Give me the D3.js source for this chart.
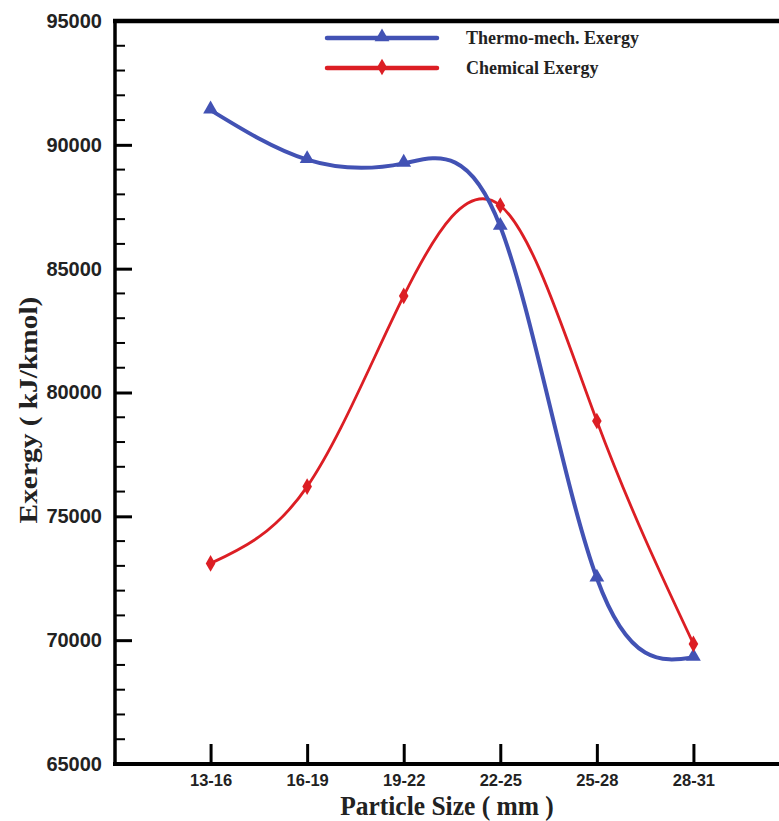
<!DOCTYPE html>
<html lang="en">
<head>
  <meta charset="UTF-8">
  <title>Exergy vs Particle Size</title>
  <script src="https://d3js.org/d3.v7.min.js"></script>
  <style>
    body { margin: 0; background: #fff; }
    svg { display: block; }
  </style>
</head>
<body>
  <div id="chart"></div>

  <script>
    // data
    const categories = ["13-16", "16-19", "19-22", "22-25", "25-28", "28-31"];
    const thermoMech = [91400, 89400, 89250, 86700, 72500, 69300];
    const chemical = [73100, 76200, 83900, 87550, 78850, 69850];
    const yTicks = [65000, 70000, 75000, 80000, 85000, 90000, 95000];

    const width = 779;
    const height = 821;
    const plotLeft = 115, plotTop = 21, plotBottom = 764;

    const blue = "#4252b4";
    const red = "#dc1e24";

    const svg = d3.select("#chart")
      .append("svg")
      .attr("width", width)
      .attr("height", height);

    // x: categories sit at 1..6 on a 0..7 span
    const x = d3.scaleLinear().domain([0, 7]).range([114, 790]);
    const y = d3.scaleLinear().domain([65000, 95000]).range([plotBottom, plotTop]);

    // y axis, major ticks
    const yAxis = svg.append("g")
      .attr("transform", `translate(${plotLeft},0)`)
      .call(d3.axisLeft(y).tickValues(yTicks).tickSizeInner(-17).tickSizeOuter(0).tickPadding(13).tickFormat(d3.format("d")));
    yAxis.select(".domain").remove();
    yAxis.selectAll(".tick line").attr("stroke", "#000").attr("stroke-width", 3);
    yAxis.selectAll(".tick text")
      .attr("font-family", "Liberation Sans, Arial, sans-serif")
      .attr("font-weight", "bold")
      .attr("font-size", 20)
      .attr("fill", "#222");

    // minor ticks every 1000
    const minor = d3.range(66000, 95000, 1000).filter(v => v % 5000 !== 0);
    svg.append("g").selectAll("line")
      .data(minor)
      .enter()
      .append("line")
      .attr("x1", plotLeft)
      .attr("x2", plotLeft + 10)
      .attr("y1", d => y(d))
      .attr("y2", d => y(d))
      .attr("stroke", "#000")
      .attr("stroke-width", 2);

    // x axis
    const xAxis = svg.append("g")
      .attr("transform", `translate(0,${plotBottom})`)
      .call(d3.axisBottom(x).tickValues(d3.range(1, 7)).tickSizeInner(-20).tickSizeOuter(0).tickPadding(10).tickFormat(i => categories[i - 1]));
    xAxis.select(".domain").remove();
    xAxis.selectAll(".tick line").attr("stroke", "#000").attr("stroke-width", 3);
    xAxis.selectAll(".tick text")
      .attr("font-family", "Liberation Sans, Arial, sans-serif")
      .attr("font-weight", "bold")
      .attr("font-size", 16.5)
      .attr("fill", "#222");

    // frame lines: left, top, bottom
    svg.append("line").attr("x1", plotLeft).attr("x2", plotLeft).attr("y1", plotTop - 2).attr("y2", plotBottom + 2)
      .attr("stroke", "#000").attr("stroke-width", 3.5);
    svg.append("line").attr("x1", plotLeft - 2).attr("x2", width).attr("y1", plotTop).attr("y2", plotTop)
      .attr("stroke", "#000").attr("stroke-width", 4.5);
    svg.append("line").attr("x1", plotLeft - 2).attr("x2", width).attr("y1", plotBottom).attr("y2", plotBottom)
      .attr("stroke", "#000").attr("stroke-width", 4);

    // curves
    const line = d3.line()
      .x((d, i) => x(i + 1))
      .y(d => y(d))
      .curve(d3.curveNatural);

    svg.append("path")
      .datum(chemical)
      .attr("d", line)
      .attr("fill", "none")
      .attr("stroke", red)
      .attr("stroke-width", 2.8);

    svg.append("path")
      .datum(thermoMech)
      .attr("d", line)
      .attr("fill", "none")
      .attr("stroke", blue)
      .attr("stroke-width", 4);

    const tri = d3.symbol().type(d3.symbolTriangle).size(95);
    const dia = d3.symbol().type(d3.symbolDiamond).size(80);

    svg.append("g").selectAll("path")
      .data(thermoMech)
      .enter()
      .append("path")
      .attr("d", tri)
      .attr("transform", (d, i) => `translate(${x(i + 1)},${y(d) - 1})`)
      .attr("fill", blue);

    svg.append("g").selectAll("path")
      .data(chemical)
      .enter()
      .append("path")
      .attr("d", dia)
      .attr("transform", (d, i) => `translate(${x(i + 1)},${y(d)})`)
      .attr("fill", red);

    // legend
    const legend = svg.append("g");
    const items = [
      { label: "Thermo-mech. Exergy", color: blue, sym: tri, w: 4.5, y: 38 },
      { label: "Chemical Exergy", color: red, sym: dia, w: 4.5, y: 68 }
    ];
    items.forEach(it => {
      legend.append("line")
        .attr("x1", 327).attr("x2", 437)
        .attr("y1", it.y).attr("y2", it.y)
        .attr("stroke", it.color)
        .attr("stroke-width", it.w)
        .attr("stroke-linecap", "round");
      legend.append("path")
        .attr("d", it.sym)
        .attr("transform", `translate(382,${it.y - 1})`)
        .attr("fill", it.color);
      legend.append("text")
        .attr("x", 466)
        .attr("y", it.y + 6)
        .attr("font-family", "Liberation Serif, Times New Roman, serif")
        .attr("font-weight", "bold")
        .attr("font-size", 18)
        .attr("fill", "#222")
        .text(it.label);
    });

    // axis titles
    svg.append("text")
      .attr("transform", "translate(447,814.5) scale(1,1.08)")
      .attr("text-anchor", "middle")
      .attr("font-family", "Liberation Serif, Times New Roman, serif")
      .attr("font-weight", "bold")
      .attr("font-size", 25.5)
      .attr("fill", "#222")
      .text("Particle Size ( mm )");

    svg.append("text")
      .attr("transform", "translate(37,410) scale(1,1.13) rotate(-90)")
      .attr("text-anchor", "middle")
      .attr("font-family", "Liberation Serif, Times New Roman, serif")
      .attr("font-weight", "bold")
      .attr("font-size", 26)
      .attr("fill", "#222")
      .text("Exergy ( kJ/kmol)");
  </script>
</body>
</html>
